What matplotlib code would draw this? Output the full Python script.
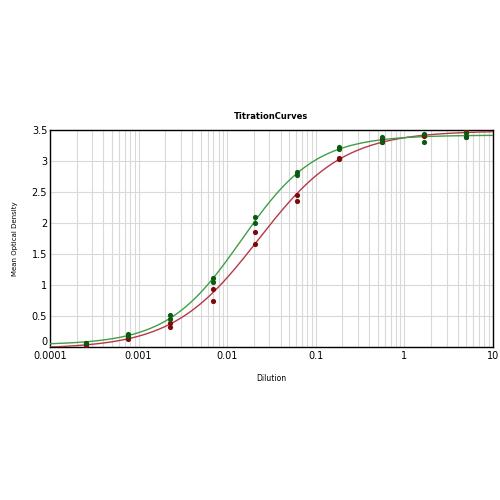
import numpy as np
import matplotlib
matplotlib.use("Agg")
import matplotlib.pyplot as plt
from matplotlib.ticker import FixedLocator, FixedFormatter, LogLocator, NullFormatter

# Data
dilution = [0.000254, 0.000762, 0.00229, 0.00686, 0.0206, 0.0617, 0.185, 0.556, 1.667, 5.0]
green_rep1 = [0.07, 0.21, 0.52, 1.12, 2.09, 2.82, 3.23, 3.39, 3.43, 3.45]
green_rep2 = [0.06, 0.18, 0.45, 1.05, 2.00, 2.78, 3.19, 3.30, 3.31, 3.38]
red_rep1 = [0.05, 0.14, 0.38, 0.93, 1.85, 2.45, 3.05, 3.35, 3.42, 3.50]
red_rep2 = [0.04, 0.13, 0.33, 0.75, 1.66, 2.36, 3.03, 3.31, 3.41, 3.39]
xticks = [0.0001, 0.001, 0.01, 0.1, 1, 10]
xticklabels = ["0.0001", "0.001", "0.01", "0.1", "1", "10"]
yticks = [0, 0.5, 1, 1.5, 2, 2.5, 3, 3.5]
yticklabels = ["0", "0.5", "1", "1.5", "2", "2.5", "3", "3.5"]


def fit4pl(x, y):
    x = np.asarray(x, float)
    y = np.asarray(y, float)
    best = None
    for lc in np.linspace(-4, 0, 401):
        c = 10 ** lc
        for h in np.linspace(0.5, 2.0, 151):
            s = 1.0 / (1.0 + (c / x) ** h)
            A = np.column_stack([1 - s, s])
            coef, *_ = np.linalg.lstsq(A, y, rcond=None)
            r = np.sum((A @ coef - y) ** 2)
            if best is None or r < best[0]:
                best = (r, coef[0], coef[1], c, h)
    _, b, t, c, h = best
    return lambda xx: b + (t - b) / (1.0 + (c / xx) ** h)


fig = plt.figure(figsize=(5, 5), dpi=100)
ax = fig.add_axes([0.100, 0.306, 0.886, 0.434])

xs = np.logspace(-4, 1, 400)
series = [
    (red_rep1, red_rep2, "#b8364a", "#7d0a0a"),
    (green_rep1, green_rep2, "#3f9f46", "#0b5a12"),
]
for r1, r2, lc, mc in series:
    xall = dilution + dilution
    yall = r1 + r2
    f = fit4pl(xall, yall)
    ax.plot(xs, f(xs), color=lc, lw=1.0, zorder=3)
    ax.scatter(xall, yall, s=14, color=mc, zorder=4, linewidths=0)

ax.set_xscale("log")
ax.set_xlim(0.0001, 10)
ax.set_ylim(0, 3.5)
ax.xaxis.set_major_locator(FixedLocator(xticks))
ax.xaxis.set_major_formatter(FixedFormatter(xticklabels))
ax.xaxis.set_minor_locator(LogLocator(base=10, subs=np.arange(2, 10)))
ax.xaxis.set_minor_formatter(NullFormatter())
ax.yaxis.set_major_locator(FixedLocator(yticks))
ax.yaxis.set_major_formatter(FixedFormatter(yticklabels))

ax.grid(True, which="both", axis="x", color="#d9d9d9", lw=0.8, zorder=0)
ax.grid(True, which="major", axis="y", color="#d9d9d9", lw=0.8, zorder=0)
ax.tick_params(which="both", length=0, labelsize=7)
ax.tick_params(axis="x", pad=3)
ax.tick_params(axis="y", pad=2)
# lift the "0" label slightly, as in the reference it sits just above the baseline
ylabels = ax.get_yticklabels()
ylabels[0].set_verticalalignment("bottom")
for s in ax.spines.values():
    s.set_color("black")
    s.set_linewidth(1.0)

ax.set_title("TitrationCurves", fontsize=6, fontweight="bold", pad=8)
ax.set_xlabel("Dilution", fontsize=5.5, labelpad=9)
ax.set_ylabel("Mean Optical Density", fontsize=5, labelpad=10)

fig.savefig("out.png", dpi=100)
